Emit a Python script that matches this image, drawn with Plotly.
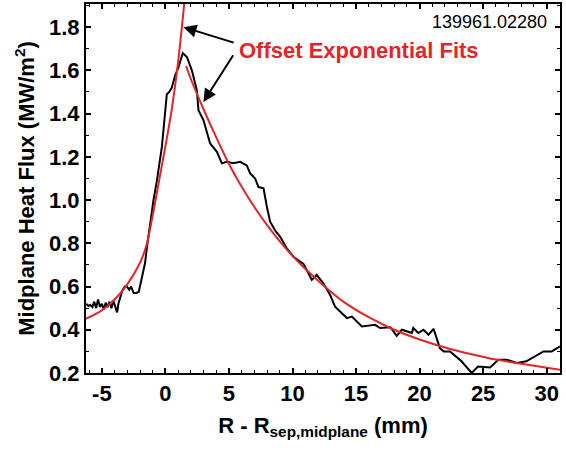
import plotly.graph_objects as go

# Measured heat-flux profile (black)
meas_x = [-6.24, -6.05, -5.9, -5.75, -5.6, -5.45, -5.3, -5.15, -5.0, -4.85, -4.7, -4.55, -4.4,
          -4.25, -4.1, -3.95, -3.8, -3.7, -3.55, -3.4, -3.2, -3.03, -2.85, -2.7, -2.5, -2.3,
          -2.1, -1.95, -1.8, -1.6, -1.46, -1.2, -0.94, -0.67, -0.28, 0.11, 0.3, 0.5, 0.77,
          1.03, 1.37, 1.69, 2.08, 2.47, 2.6, 2.99, 3.52, 4.05, 4.44, 4.83, 5.35, 5.88, 6.4,
          6.67, 7.06, 7.32, 7.72, 7.98, 8.24, 8.63, 9.03, 9.55, 10.07, 10.86, 11.52, 11.9,
          12.43, 12.96, 13.35, 14.28, 14.67, 15.46, 16.5, 16.9, 17.7, 18.2, 18.6, 19.4, 19.5,
          19.9, 20.3, 20.7, 21.1, 21.6, 21.9, 22.4, 23.3, 24.1, 24.6, 25.55, 26.2, 26.87,
          27.65, 28.4, 29.1, 29.75, 30.4, 31.05]
meas_y = [0.52, 0.51, 0.515, 0.505, 0.53, 0.50, 0.54, 0.505, 0.52, 0.495, 0.525, 0.505, 0.53,
          0.50, 0.535, 0.51, 0.48, 0.52, 0.545, 0.58, 0.60, 0.60, 0.585, 0.60, 0.57, 0.57,
          0.575, 0.62, 0.66, 0.71, 0.78, 0.90, 1.0, 1.09, 1.246, 1.49, 1.50, 1.52, 1.577,
          1.615, 1.68, 1.662, 1.60, 1.508, 1.416, 1.37, 1.262, 1.223, 1.17, 1.177, 1.17, 1.177,
          1.16, 1.123, 1.10, 1.06, 1.054, 0.97, 0.90, 0.86, 0.83, 0.777, 0.738, 0.705, 0.631,
          0.654, 0.615, 0.561, 0.507, 0.454, 0.461, 0.415, 0.423, 0.408, 0.412, 0.372, 0.40,
          0.385, 0.408, 0.385, 0.40, 0.377, 0.404, 0.315, 0.30, 0.30, 0.254, 0.20, 0.23,
          0.226, 0.261, 0.261, 0.246, 0.254, 0.28, 0.30, 0.30, 0.323]

# Offset exponential fit, inner (left) side
fitL_x = [-6.3, -5.0, -4.0, -3.0, -2.0, -1.5, -1.0, -0.5, 0.0, 0.5, 1.0, 1.5, 1.6]
fitL_y = [0.45, 0.49, 0.54, 0.61, 0.71, 0.79, 0.93, 1.09, 1.25, 1.42, 1.64, 1.92, 1.98]

# Offset exponential fit, outer (right) side
fitR_x = [1.63, 2.0, 3.0, 4.0, 5.0, 6.0, 7.0, 8.0, 9.0, 10.0, 11.0, 12.0, 14.0, 16.0,
          18.0, 20.0, 22.0, 24.0, 26.0, 28.0, 31.05]
fitR_y = [1.62, 1.56, 1.42, 1.29, 1.167, 1.062, 0.968, 0.884, 0.809, 0.742, 0.682, 0.628,
          0.530, 0.458, 0.400, 0.355, 0.318, 0.288, 0.262, 0.243, 0.215]

x_ticks = [-5, 0, 5, 10, 15, 20, 25, 30]
x_tick_labels = ["-5", "0", "5", "10", "15", "20", "25", "30"]
y_ticks = [0.2, 0.4, 0.6, 0.8, 1.0, 1.2, 1.4, 1.6, 1.8]
y_tick_labels = ["0.2", "0.4", "0.6", "0.8", "1.0", "1.2", "1.4", "1.6", "1.8"]

RED = "#e0262b"
FONT = "Liberation Sans, Arial, sans-serif"

fig = go.Figure()
fig.add_trace(go.Scatter(x=meas_x, y=meas_y, mode="lines",
                         line=dict(color="black", width=2), showlegend=False))
fig.add_trace(go.Scatter(x=fitL_x, y=fitL_y, mode="lines", line_shape="spline",
                         line=dict(color=RED, width=2), showlegend=False))
fig.add_trace(go.Scatter(x=fitR_x, y=fitR_y, mode="lines", line_shape="spline",
                         line=dict(color=RED, width=2), showlegend=False))

axis_common = dict(showline=True, linecolor="black", linewidth=2, mirror="ticks",
                   ticks="inside", ticklen=5, tickwidth=1.5, tickcolor="black",
                   showgrid=False, zeroline=False, automargin=False,
                   tickfont=dict(family=FONT, size=22, color="black", weight="bold"))

fig.update_xaxes(range=[-6.25, 31.05], tickvals=x_ticks, ticktext=x_tick_labels,
                 minor=dict(dtick=1, ticks="inside", ticklen=3, tickwidth=1.2, tickcolor="black"),
                 title=dict(text="R - R<sub>sep,midplane</sub> (mm)", standoff=12,
                            font=dict(family=FONT, size=22, color="black", weight="bold")),
                 **axis_common)
fig.update_yaxes(range=[0.2, 1.907], tickvals=y_ticks, ticktext=y_tick_labels,
                 minor=dict(dtick=0.1, ticks="inside", ticklen=3, tickwidth=1.2, tickcolor="black"),
                 title=dict(text="Midplane Heat Flux (MW/m<sup>2</sup>)", standoff=8,
                            font=dict(family=FONT, size=22, color="black", weight="bold")),
                 **axis_common)

# arrows
fig.add_annotation(x=1.42, y=1.80, ax=5.49, ay=1.726, xref="x", yref="y", axref="x", ayref="y",
                   text="", showarrow=True, arrowhead=2, arrowsize=1.3, arrowwidth=2,
                   arrowcolor="black")
fig.add_annotation(x=2.99, y=1.454, ax=5.41, ay=1.677, xref="x", yref="y", axref="x", ayref="y",
                   text="", showarrow=True, arrowhead=2, arrowsize=1.3, arrowwidth=2,
                   arrowcolor="black")
fig.add_annotation(x=5.65, y=1.693, xref="x", yref="y", xanchor="left", yanchor="middle",
                   text="Offset Exponential Fits", showarrow=False,
                   font=dict(family=FONT, size=22, color=RED, weight="bold"))
fig.add_annotation(x=30.15, y=1.823, xref="x", yref="y", xanchor="right", yanchor="middle",
                   text="139961.02280", showarrow=False,
                   font=dict(family=FONT, size=18, color="black"))

fig.update_layout(width=566, height=450, margin=dict(l=86, r=6, t=4, b=77),
                  paper_bgcolor="white", plot_bgcolor="white")

fig.write_html("out.html", config={"displayModeBar": False},
               post_script="document.body.style.margin='0';document.body.style.overflow='hidden';")
